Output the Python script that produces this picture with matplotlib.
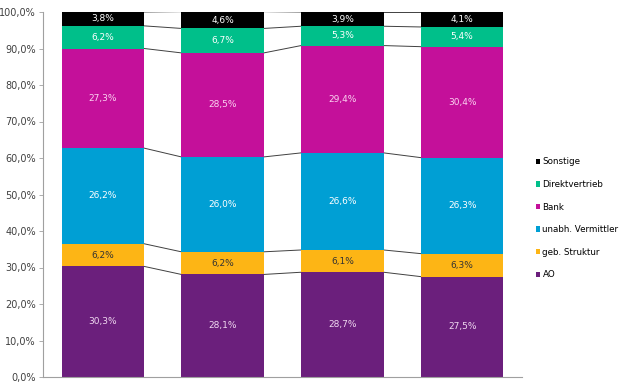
import matplotlib.pyplot as plt
from matplotlib.ticker import FuncFormatter

# stacked shares per column (bottom to top)
columns = ["1", "2", "3", "4"]
series = ["AO", "geb. Struktur", "unabh. Vermittler", "Bank", "Direktvertrieb", "Sonstige"]
ao = [30.3, 28.1, 28.7, 27.5]
geb = [6.2, 6.2, 6.1, 6.3]
unabh = [26.2, 26.0, 26.6, 26.3]
bank = [27.3, 28.5, 29.4, 30.4]
direkt = [6.2, 6.7, 5.3, 5.4]
sonst = [3.8, 4.6, 3.9, 4.1]

colors = ["#6B1F7C", "#FDB515", "#009FD4", "#C4109A", "#00BF8A", "#000000"]
text_colors = ["#F0D8F0", "#333333", "#FFFFFF", "#FAD2F0", "#FFFFFF", "#FFFFFF"]

values = [ao, geb, unabh, bank, direkt, sonst]

fig = plt.figure(figsize=(6.21, 3.83), dpi=100)
ax = fig.add_axes([43 / 621, 6 / 383, 479 / 621, 365 / 383])

x = list(range(len(columns)))
width = 0.69
bottom = [0.0] * len(columns)
handles = []
tops = []
for vals, name, c, tc in zip(values, series, colors, text_colors):
    b = ax.bar(x, vals, width, bottom=bottom, color=c, label=name, zorder=2)
    handles.append(b)
    for xi, v, bt in zip(x, vals, bottom):
        ax.text(xi, bt + v / 2, f"{v:.1f}%".replace(".", ","), ha="center", va="center",
                fontsize=6.5, color=tc, zorder=3)
    bottom = [bt + v for bt, v in zip(bottom, vals)]
    tops.append(list(bottom))

# series lines between bars
for level in tops:
    for i in range(len(columns) - 1):
        ax.plot([x[i] + width / 2, x[i + 1] - width / 2], [level[i], level[i + 1]],
                color="#404040", lw=0.7, zorder=1)

ax.set_xlim(-0.5, 3.5)
ax.set_ylim(0, 100)
ax.set_yticks(range(0, 101, 10))
ax.yaxis.set_major_formatter(FuncFormatter(lambda v, p: f"{v:.1f}%".replace(".", ",")))
ax.tick_params(axis="y", labelsize=7, colors="#A0A0A0", labelcolor="#404040",
               length=3, width=0.6, pad=2)
ax.set_xticks([])
for s in ["top", "right"]:
    ax.spines[s].set_visible(False)
for s in ["left", "bottom"]:
    ax.spines[s].set_color("#A0A0A0")
    ax.spines[s].set_linewidth(0.8)

leg = fig.legend(handles[::-1], series[::-1], loc="upper left", bbox_to_anchor=(532 / 621, 1 - 154 / 383),
                 frameon=False, fontsize=6.3, handlelength=0.55, handleheight=0.55,
                 handletextpad=0.25, labelspacing=1.55, borderaxespad=0)

fig.savefig("out.png", dpi=100)
